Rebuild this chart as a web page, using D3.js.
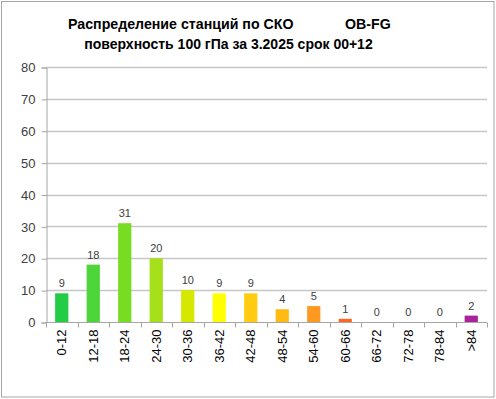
<!DOCTYPE html>
<html><head><meta charset="utf-8">
<script src="https://cdn.jsdelivr.net/npm/d3@7"></script>
<style>body{margin:0;background:#fff}svg{display:block}</style>
</head><body>
<svg id="c" width="496" height="399"></svg>
<script>
const categories = ["0-12","12-18","18-24","24-30","30-36","36-42","42-48","48-54","54-60","60-66","66-72","72-78","78-84",">84"];
const values = [9,18,31,20,10,9,9,4,5,1,0,0,0,2];
const barColors = ["#22cc44","#4cd63a","#77dd22","#a6e01a","#d4e800","#ffff00","#ffcc11","#ffbb11","#ff9922","#ff6622","#ff6622","#ff6622","#ff6622","#aa2299"];
const yTicks = [0,10,20,30,40,50,60,70,80];
const titleLine1 = "Распределение станций по СКО";
const titleLine1b = "OB-FG";
const titleLine2 = "поверхность  100 гПа за 3.2025 срок 00+12";

const svg = d3.select("#c");
svg.append("rect").attr("x",1.5).attr("y",1.5).attr("width",492.5).attr("height",395.5)
  .attr("fill","#fff").attr("stroke","#a6a6a6").attr("stroke-width",1);

const m = {left:46, right:487, top:67, bottom:322};
const x = d3.scaleBand().domain(categories).range([m.left,m.right]).paddingInner(0.58).paddingOuter(0.29);
const y = d3.scaleLinear().domain([0,80]).range([m.bottom,m.top]);

// grid
svg.append("g").selectAll("line").data(yTicks.filter(d=>d>0)).join("line")
  .attr("x1",m.left).attr("x2",m.right).attr("y1",d=>Math.round(y(d))+0.5).attr("y2",d=>Math.round(y(d))+0.5)
  .attr("stroke","#c6c6c6").attr("stroke-width",1.5);

// y axis
const ya = svg.append("g").attr("transform",`translate(${m.left+0.5},0.5)`)
  .call(d3.axisLeft(y).tickValues(yTicks).tickSize(5).tickPadding(6));
ya.select(".domain").attr("stroke","#a6a6a6");
ya.selectAll(".tick line").attr("stroke","#a6a6a6");
ya.selectAll("text").attr("font-family","Liberation Sans, Arial, sans-serif").attr("font-size",13).attr("fill","#404040");

// bars
svg.append("g").selectAll("rect").data(values).join("rect")
  .attr("x",(d,i)=>x(categories[i])).attr("width",x.bandwidth())
  .attr("y",d=>y(d)).attr("height",d=>y(0)-y(d))
  .attr("fill",(d,i)=>barColors[i]);

// x axis
const xa = svg.append("g").attr("transform",`translate(0,${Math.round(y(0))+0.5})`);
xa.append("line").attr("x1",m.left).attr("x2",m.right).attr("stroke","#a6a6a6");
const bounds = d3.range(categories.length+1).map(i=>m.left + i*(m.right-m.left)/categories.length);
xa.selectAll("line.t").data(bounds).join("line").attr("class","t")
  .attr("x1",d=>Math.round(d)+0.5).attr("x2",d=>Math.round(d)+0.5).attr("y1",0).attr("y2",5).attr("stroke","#a6a6a6");
xa.selectAll("text").data(categories).join("text")
  .attr("transform",d=>`translate(${x(d)+x.bandwidth()/2+4.5},7) rotate(-90)`)
  .attr("text-anchor","end")
  .attr("font-family","Liberation Sans, Arial, sans-serif").attr("font-size",13).attr("fill","#000")
  .text(d=>d);

// value labels
svg.append("g").selectAll("text").data(values).join("text")
  .attr("x",(d,i)=>x(categories[i])+x.bandwidth()/2).attr("y",d=>y(d)-6)
  .attr("text-anchor","middle").attr("font-family","Liberation Sans, Arial, sans-serif")
  .attr("font-size",11).attr("fill","#404040").text(d=>d);

// title
const tf = "Liberation Sans, Arial, sans-serif";
svg.append("text").attr("x",68).attr("y",29).attr("font-family",tf).attr("font-weight","bold").attr("font-size",14.2).attr("fill","#000").text(titleLine1);
svg.append("text").attr("x",345).attr("y",29).attr("font-family",tf).attr("font-weight","bold").attr("font-size",14.2).attr("fill","#000").text(titleLine1b);
svg.append("text").attr("x",228.5).attr("y",49).attr("text-anchor","middle").attr("font-family",tf).attr("font-weight","bold").attr("font-size",14).attr("fill","#000").text(titleLine2);
</script>
</body></html>
